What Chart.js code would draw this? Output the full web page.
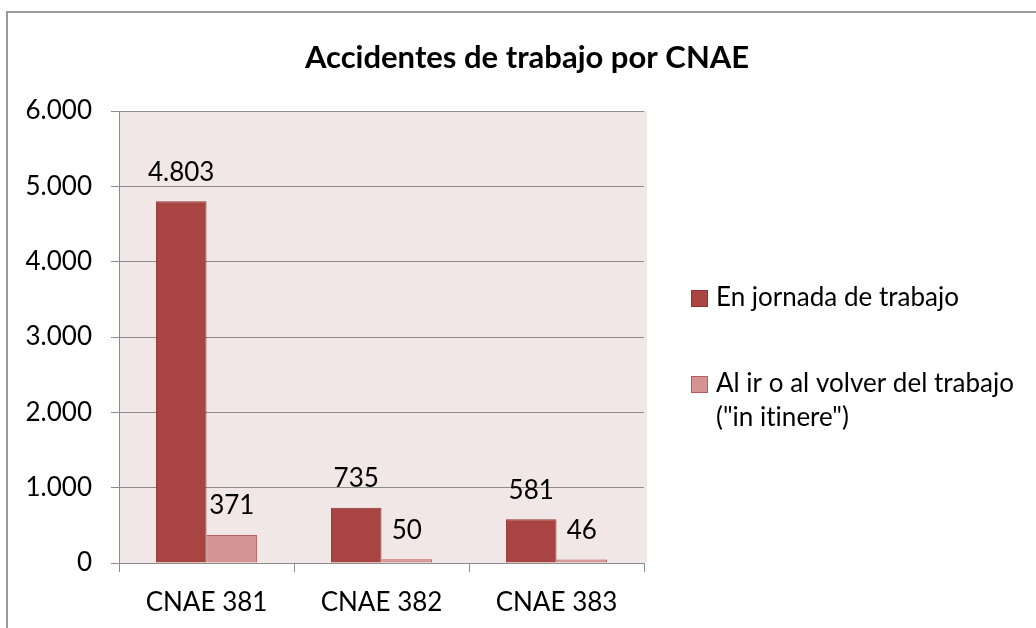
<!DOCTYPE html>
<html>
<head>
<meta charset="utf-8">
<script src="https://cdn.jsdelivr.net/npm/chart.js@4.4.1/dist/chart.umd.min.js"></script>
<style>
  html, body { margin: 0; padding: 0; background: #ffffff; overflow: hidden; }
  #frame { position: absolute; left: 6px; top: 11px; width: 1100px; height: 700px;
           border-left: 2px solid #9a9a9a; border-top: 2px solid #9a9a9a; }
  #wrap { position: absolute; left: 0; top: 0; width: 1036px; height: 628px; }
</style>
</head>
<body>
<div id="frame"></div>
<div id="wrap"><canvas id="c" width="1036" height="628"></canvas></div>
<script>
const chartTitle = 'Accidentes de trabajo por CNAE';
const categories = ['CNAE 381', 'CNAE 382', 'CNAE 383'];
const seriesNames = ['En jornada de trabajo', ['Al ir o al volver del trabajo', '("in itinere")']];
const jornada = [4803, 735, 581];
const itinere = [371, 50, 46];
const yTickLabels = ['0', '1.000', '2.000', '3.000', '4.000', '5.000', '6.000'];

const FONT = 'Lato, "Open Sans", sans-serif';
const fmt = v => String(v).replace(/\B(?=(\d{3})+(?!\d))/g, '.');

const plotBg = {
  id: 'plotBg',
  beforeDraw(chart) {
    const a = chart.chartArea, ctx = chart.ctx;
    ctx.save();
    ctx.fillStyle = '#f2e7e7';
    ctx.fillRect(a.left, a.top, a.right - a.left + 3, a.bottom - a.top);
    ctx.restore();
  }
};

const titleDraw = {
  id: 'titleDraw',
  afterDraw(chart) {
    const ctx = chart.ctx;
    ctx.save();
    ctx.font = 'bold 31px ' + FONT;
    ctx.fillStyle = '#000';
    ctx.textAlign = 'center';
    ctx.textBaseline = 'middle';
    ctx.fillText(chartTitle, 527, 58);
    ctx.restore();
  }
};

const dataLabels = {
  id: 'dataLabels',
  afterDatasetsDraw(chart) {
    const ctx = chart.ctx;
    ctx.save();
    ctx.font = '26px ' + FONT;
    ctx.fillStyle = '#000';
    ctx.textAlign = 'center';
    ctx.textBaseline = 'middle';
    chart.data.datasets.forEach((ds, di) => {
      chart.getDatasetMeta(di).data.forEach((bar, i) => {
        ctx.fillText(fmt(ds.data[i]), bar.x, bar.y - 29);
      });
    });
    ctx.restore();
  }
};

const customLegend = {
  id: 'customLegend',
  afterDraw(chart) {
    const ctx = chart.ctx;
    ctx.save();
    ctx.font = '26px ' + FONT;
    ctx.textBaseline = 'middle';
    ctx.textAlign = 'left';
    if ('letterSpacing' in ctx) ctx.letterSpacing = '0.01px';
    const x0 = 691, startY = [298, 384], lineH = 34;
    chart.data.datasets.forEach((ds, di) => {
      const y = startY[di];
      ctx.fillStyle = ds.backgroundColor;
      ctx.strokeStyle = ds.borderColor;
      ctx.lineWidth = 1;
      ctx.fillRect(x0, y - 8, 17, 17);
      ctx.strokeRect(x0 + 0.5, y - 7.5, 16, 16);
      ctx.fillStyle = '#000';
      const lines = Array.isArray(ds.label) ? ds.label : [ds.label];
      lines.forEach((t, k) => ctx.fillText(t, x0 + 25, y + k * lineH));
    });
    ctx.restore();
  }
};

new Chart(document.getElementById('c'), {
  type: 'bar',
  data: {
    labels: categories,
    datasets: [
      { label: seriesNames[0], data: jornada, backgroundColor: '#a84543', borderColor: '#8c3533', borderWidth: 1,
        categoryPercentage: 0.578, barPercentage: 1.0 },
      { label: seriesNames[1], data: itinere, backgroundColor: '#d49493', borderColor: '#bb5c5a', borderWidth: 1,
        categoryPercentage: 0.578, barPercentage: 1.0 }
    ]
  },
  options: {
    responsive: false,
    animation: false,
    devicePixelRatio: 1,
    layout: { padding: { left: 0, right: 392, top: 111, bottom: 0 } },
    plugins: {
      legend: { display: false },
      tooltip: { enabled: false },
      title: { display: false }
    },
    scales: {
      x: {
        grid: { display: true, offset: true, drawOnChartArea: false, drawTicks: true, tickLength: 9, color: '#8c8c8c' },
        border: { display: true, color: '#8c8c8c', width: 1 },
        ticks: { color: '#000', font: { family: FONT, size: 26 }, padding: 15 },
        afterFit: s => { s.height = 65; }
      },
      y: {
        min: 0, max: 6000,
        grid: { color: '#8c8c8c', tickLength: 8, lineWidth: 1 },
        border: { display: true, color: '#8c8c8c', width: 1 },
        ticks: { stepSize: 1000, color: '#000', font: { family: FONT, size: 26 }, padding: 19,
                 callback: (v, i) => yTickLabels[i] },
        afterFit: s => { s.width = 119; }
      }
    }
  },
  plugins: [plotBg, dataLabels, customLegend, titleDraw]
});
</script>
</body>
</html>
